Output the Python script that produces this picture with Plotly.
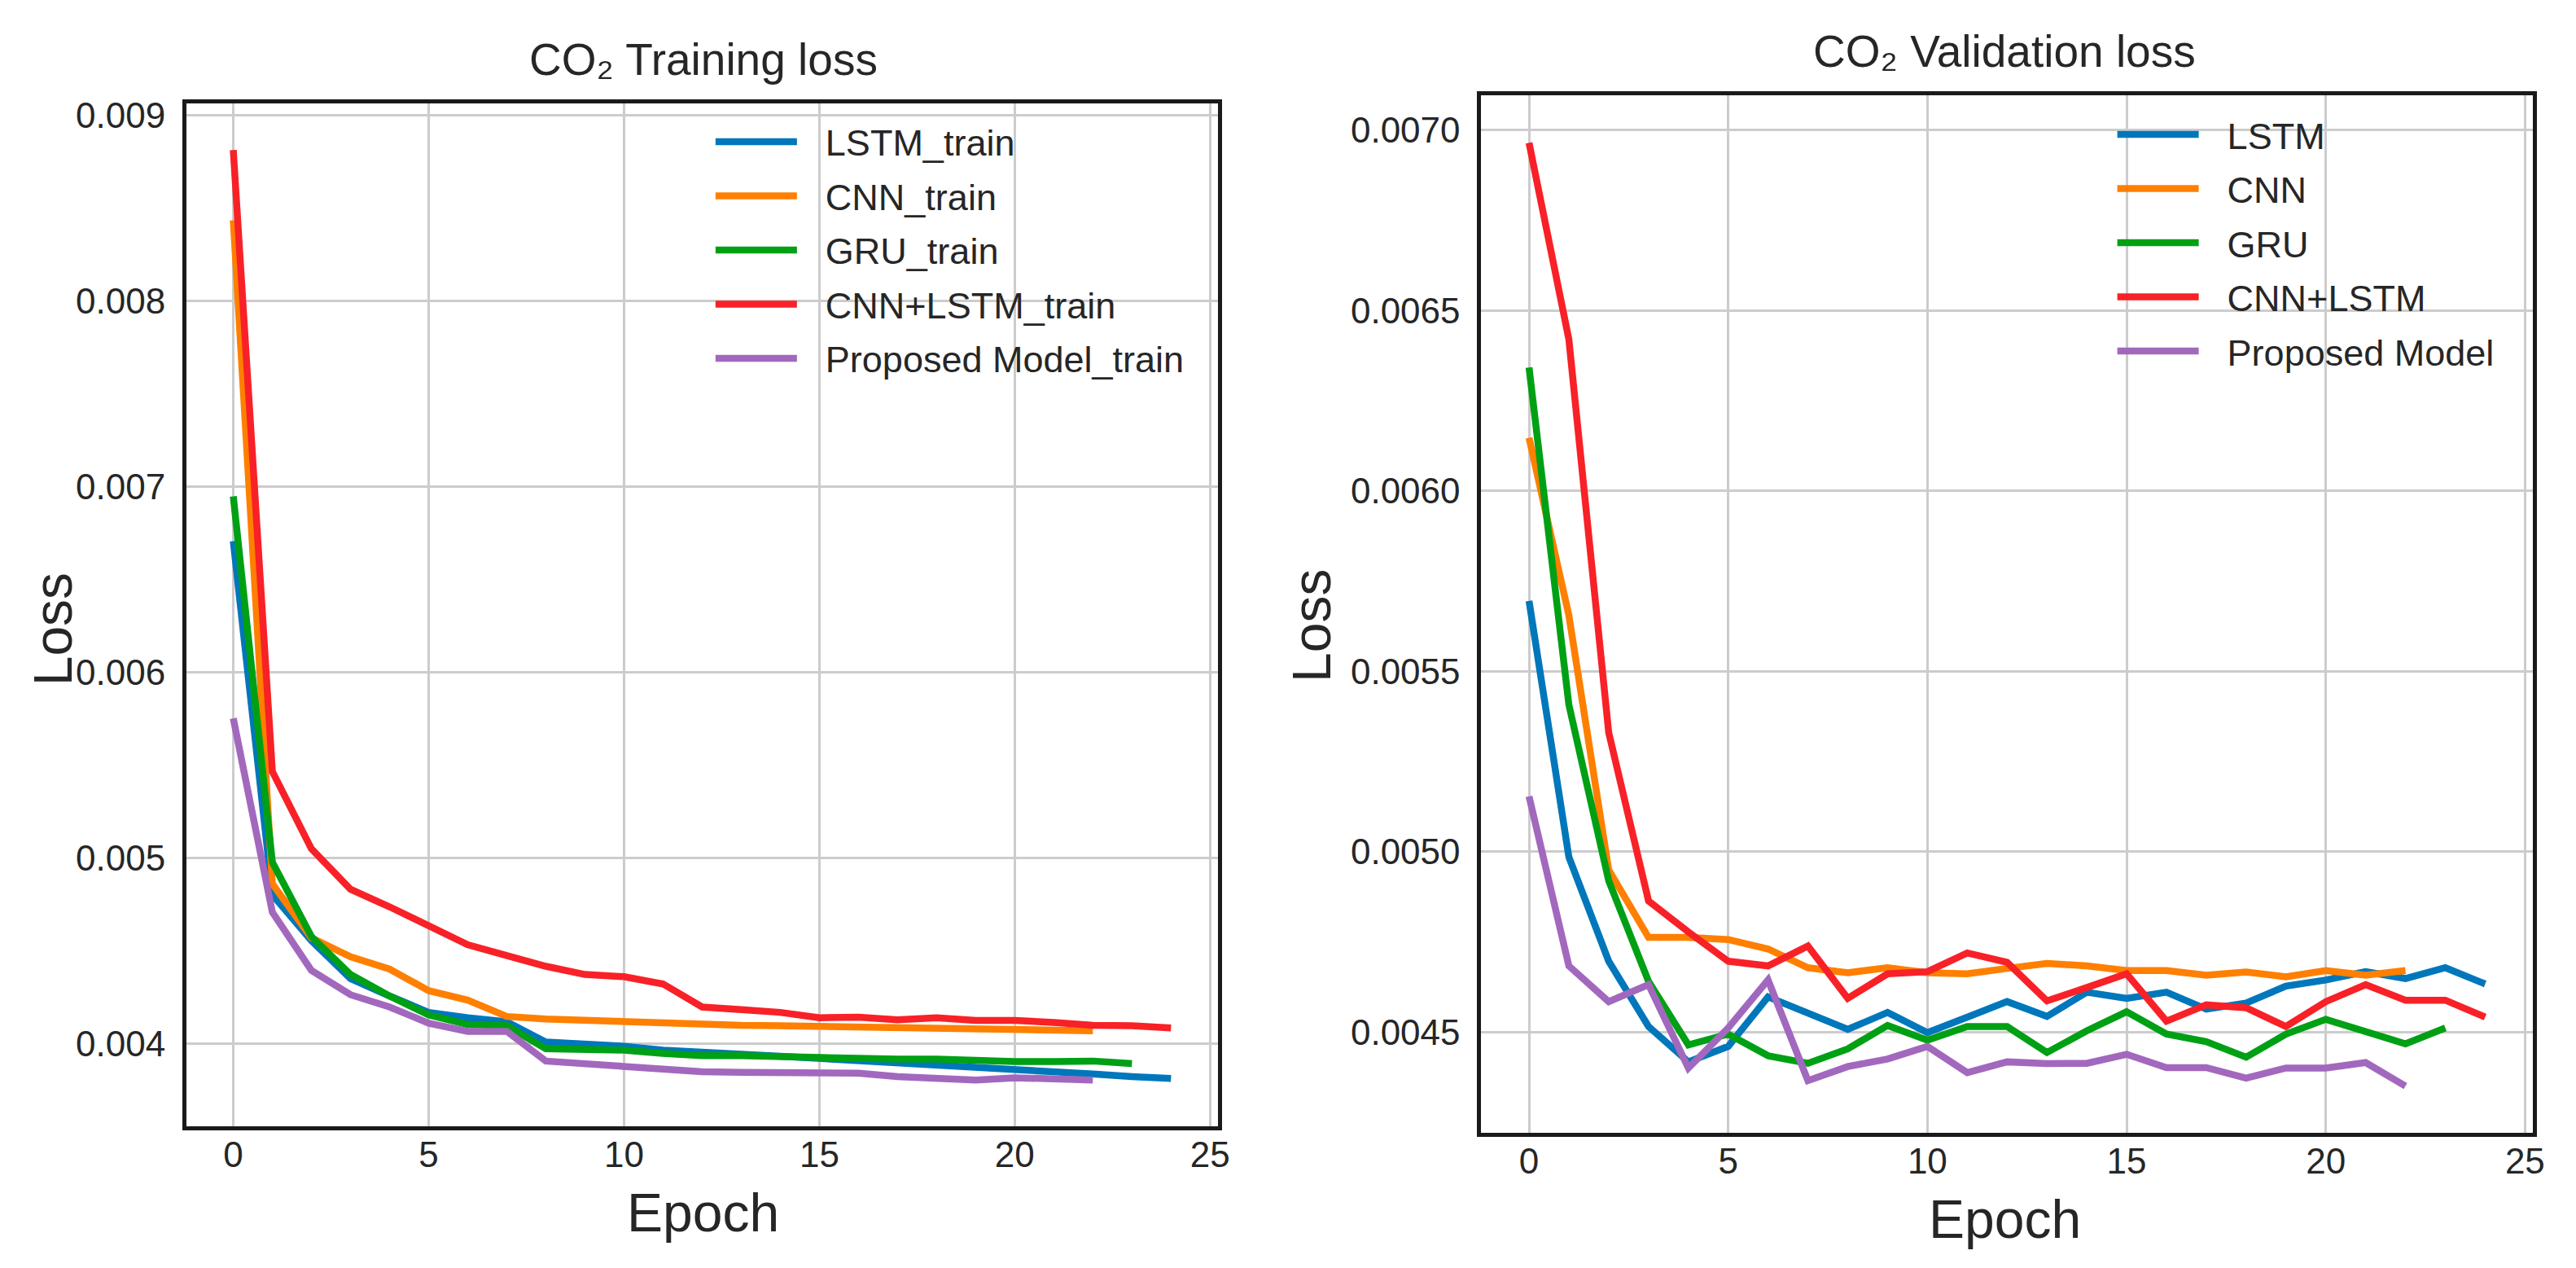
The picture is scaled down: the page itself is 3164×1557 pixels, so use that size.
import plotly.graph_objects as go

# Training loss per epoch
lstm_train = [0.006706, 0.004803, 0.004556, 0.004352, 0.004258, 0.004170, 0.004141, 0.004119,
              0.004010, 0.004003, 0.003988, 0.003967, 0.003952, 0.003945, 0.003934, 0.003923,
              0.003911, 0.003901, 0.003891, 0.003876, 0.003868, 0.003857, 0.003838, 0.003824,
              0.003814]
cnn_train = [0.008433, 0.004862, 0.004571, 0.004469, 0.004403, 0.004287, 0.004236, 0.004148,
             0.004134, 0.004127, 0.004112, 0.004108, 0.004103, 0.004100, 0.004098, 0.004095,
             0.004090, 0.004086, 0.004086, 0.004080, 0.004083, 0.004076, 0.004071]
gru_train = [0.006947, 0.004978, 0.004578, 0.004374, 0.004258, 0.004156, 0.004105, 0.004098,
             0.003974, 0.003974, 0.003967, 0.003949, 0.003937, 0.003937, 0.003930, 0.003926,
             0.003920, 0.003918, 0.003918, 0.003908, 0.003905, 0.003905, 0.003908, 0.003894]
cnnlstm_train = [0.008811, 0.005466, 0.005050, 0.004833, 0.004738, 0.004636, 0.004534, 0.004476,
                 0.004418, 0.004374, 0.004362, 0.004323, 0.004199, 0.004185, 0.004170, 0.004141,
                 0.004144, 0.004130, 0.004141, 0.004127, 0.004127, 0.004116, 0.004100, 0.004098,
                 0.004086]
proposed_train = [0.005752, 0.004709, 0.004396, 0.004265, 0.004199, 0.004112, 0.004068, 0.004068,
                  0.003908, 0.003894, 0.003876, 0.003857, 0.003850, 0.003847, 0.003846, 0.003840,
                  0.003843, 0.003824, 0.003818, 0.003806, 0.003818, 0.003814, 0.003806]

# Validation loss per epoch
lstm_val = [0.005695, 0.004985, 0.004696, 0.004515, 0.004417, 0.004460, 0.004597, 0.004554,
            0.004507, 0.004554, 0.004498, 0.004541, 0.004584, 0.004543, 0.004610, 0.004593,
            0.004610, 0.004563, 0.004580, 0.004627, 0.004644, 0.004667, 0.004648, 0.004678,
            0.004633]
cnn_val = [0.006147, 0.005655, 0.004949, 0.004762, 0.004762, 0.004756, 0.004730, 0.004678,
           0.004664, 0.004678, 0.004664, 0.004661, 0.004676, 0.004690, 0.004683, 0.004670,
           0.004670, 0.004657, 0.004666, 0.004653, 0.004670, 0.004657, 0.004670]
gru_val = [0.006342, 0.005407, 0.004919, 0.004640, 0.004464, 0.004494, 0.004434, 0.004413,
           0.004453, 0.004518, 0.004477, 0.004515, 0.004515, 0.004443, 0.004503, 0.004556,
           0.004494, 0.004473, 0.004430, 0.004494, 0.004535, 0.004503, 0.004467, 0.004511]
cnnlstm_val = [0.006965, 0.006420, 0.005330, 0.004863, 0.004777, 0.004696, 0.004683, 0.004738,
               0.004593, 0.004661, 0.004667, 0.004719, 0.004693, 0.004586, 0.004623, 0.004661,
               0.004530, 0.004575, 0.004567, 0.004515, 0.004584, 0.004631, 0.004588, 0.004588,
               0.004541]
proposed_val = [0.005153, 0.004683, 0.004584, 0.004631, 0.004400, 0.004511, 0.004644, 0.004365,
                0.004404, 0.004425, 0.004460, 0.004387, 0.004417, 0.004412, 0.004413, 0.004438,
                0.004401, 0.004401, 0.004372, 0.004400, 0.004400, 0.004415, 0.004350]

models = ["LSTM", "CNN", "GRU", "CNN+LSTM", "Proposed Model"]
colors = ["#0077BB", "#FF7F00", "#00A014", "#F82127", "#A268BE"]
train_series = [lstm_train, cnn_train, gru_train, cnnlstm_train, proposed_train]
val_series = [lstm_val, cnn_val, gru_val, cnnlstm_val, proposed_val]

FONT = "Liberation Sans, Arial, sans-serif"
TEXT = "#262626"
PAGE_W, PAGE_H = 3164, 1557
BODY = 8  # default page margin around the plot div
W, H = PAGE_W - 2 * BODY, PAGE_H - 2 * BODY
OFF_X, OFF_Y = 4, 8  # calibration of page pixels vs figure pixels
LW = 8.5
GAP = "\u2002\u2006"  # widens the space between legend line and label

fig = go.Figure()

for name, color, ys in zip(models, colors, train_series):
    fig.add_trace(go.Scatter(
        x=list(range(len(ys))), y=ys, mode="lines", name=GAP + name + "_train",
        line=dict(color=color, width=LW), xaxis="x", yaxis="y",
        legend="legend", legendgroup="t_" + name,
    ))

for name, color, ys in zip(models, colors, val_series):
    fig.add_trace(go.Scatter(
        x=list(range(len(ys))), y=ys, mode="lines", name=GAP + name,
        line=dict(color=color, width=LW), xaxis="x2", yaxis="y2",
        legend="legend2", legendgroup="v_" + name,
    ))

axis_style = dict(
    showgrid=True, gridcolor="#cccccc", gridwidth=3, zeroline=False,
    showline=True, linecolor="#1a1a1a", linewidth=5, mirror=True,
    ticks="", tickfont=dict(size=44, color=TEXT, family=FONT),
)

# page pixel -> paper fraction
def px_x(p):
    return (p - OFF_X) / W

def px_y(p):
    return 1 - (p - OFF_Y) / H

legend_style = dict(
    font=dict(size=45, color=TEXT, family=FONT),
    bgcolor="rgba(0,0,0,0)", borderwidth=0,
    xanchor="left", yanchor="top",
    tracegroupgap=5, itemwidth=100,
)

fig.update_layout(
    width=W, height=H,
    margin=dict(l=0, r=0, t=0, b=0),
    paper_bgcolor="white", plot_bgcolor="white",
    font=dict(family=FONT, color=TEXT),
    xaxis=dict(domain=[px_x(226), px_x(1499)], range=[-1.2, 25.2], dtick=5,
               anchor="y", ticklabelstandoff=-8, **axis_style),
    yaxis=dict(domain=[px_y(1382), px_y(117)], range=[0.003556, 0.009061],
               dtick=0.001, tickformat=".3f", anchor="x", ticklabelstandoff=12, **axis_style),
    xaxis2=dict(domain=[px_x(1824), px_x(3122)], range=[-1.2, 25.2], dtick=5,
                anchor="y2", ticklabelstandoff=-8, **axis_style),
    yaxis2=dict(domain=[px_y(1390), px_y(107)], range=[0.00422, 0.007096],
                dtick=0.0005, tickformat=".4f", anchor="x2", ticklabelstandoff=12, **axis_style),
    legend=dict(x=px_x(874), y=px_y(128), **legend_style),
    legend2=dict(x=px_x(2604), y=px_y(119), **legend_style),
    showlegend=True,
)

labels = [
    ("CO₂ Training loss", 864, 62, 55, 0),
    ("CO₂ Validation loss", 2470, 52, 55, 0),
    ("Epoch", 864, 1489, 66, 0),
    ("Epoch", 2470, 1497, 66, 0),
    ("Loss", 61, 767, 66, -90),
    ("Loss", 1614, 763, 66, -90),
]
for text, x, y, size, angle in labels:
    fig.add_annotation(text=text, x=px_x(x), y=px_y(y), xref="paper", yref="paper",
                       showarrow=False, textangle=angle, xanchor="center", yanchor="middle",
                       font=dict(size=size, color=TEXT, family=FONT))

fig.write_html("out.html")
